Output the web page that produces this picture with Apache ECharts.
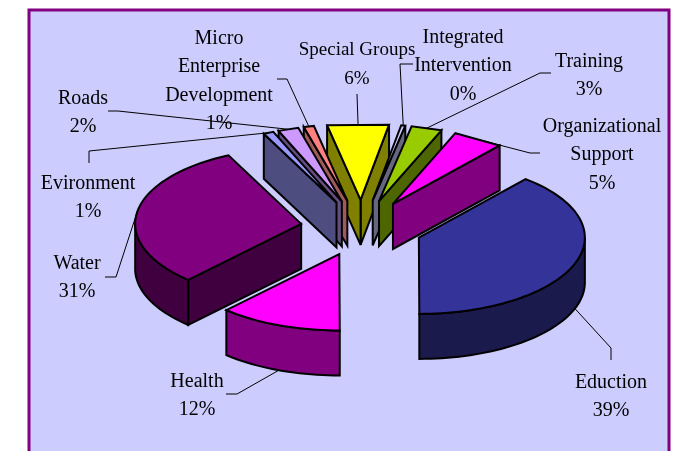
<!DOCTYPE html>
<html>
<head>
<meta charset="utf-8">
<style>
  html, body { margin: 0; padding: 0; background: #fff; overflow: hidden; }
  #chart { width: 677px; height: 451px; }
</style>
</head>
<body>
<div id="chart"></div>
<script src="https://cdn.jsdelivr.net/npm/echarts@6/dist/echarts.min.js"></script>
<script>
  // clockwise from the first slice
  const categories = ['Eduction', 'Health', 'Water', 'Evironment', 'Roads',
    'Micro Enterprise Development', 'Special Groups', 'Integrated Intervention', 'Training', 'Organizational Support']
  const values = [39, 12, 31, 1, 2, 1, 6, 0.4, 3, 5]

  const topColors = ['#333399', '#ff00ff', '#800080', '#9999ff', '#cc99ff', '#ff8080', '#ffff00', '#ccccff', '#99cc00', '#ff00ff']
  const sideColors = ['#1a1a4d', '#800080', '#400040', '#4d4d80', '#664d80', '#a05a5a', '#808000', '#666680', '#4d6600', '#800080']

  // how the category names wrap, and where the label sits
  const labelLines = [['Eduction'], ['Health'], ['Water'], ['Evironment'], ['Roads'],
    ['Micro', 'Enterprise', 'Development'], ['Special Groups'], ['Integrated', 'Intervention'], ['Training'], ['Organizational', 'Support']]
  const labelCenters = [[611, 379], [197, 378], [77, 260], [88, 180], [83, 95],
    [219, 35], [357, 47], [463, 34], [589, 58], [602, 123]]
  const labelSizes = [20, 20, 20, 20, 20, 20, 19, 20, 20, 20]
  // elbow of each leader line, the last end comes from the slice itself
  const leaderElbows = [[[611, 360], [611, 348]], [[226, 394], [237, 394]], [[105, 277], [116, 277]],
    [[89, 163], [89, 151]], [[108, 111], [118, 111]], [[277, 79], [287, 79]], [[357, 94]],
    [[413, 64], [400, 64]], [[551, 73], [540, 73]], [[540, 153], [530, 153]]]

  const cx = 361.5
  const cy = 228
  const radius = 166
  const tilt = 0.46
  const depth = 45
  const explode = 61
  const startAngle = 40

  const total = values.reduce((a, b) => a + b, 0)
  const toRad = deg => deg * Math.PI / 180
  const project = (x, y, r, deg) => [x + r * Math.sin(toRad(deg)), y - r * tilt * Math.cos(toRad(deg))]

  let running = startAngle
  const slices = values.map((v, i) => {
    const from = running
    running += v / total * 360
    return { index: i, from, to: running, mid: (from + running) / 2 }
  })
  // back slices first, the ones nearest the viewer on top
  const drawOrder = slices.slice().sort((a, b) => Math.cos(toRad(b.mid)) - Math.cos(toRad(a.mid)))

  const face = (points, fill) => ({
    type: 'polygon',
    shape: { points },
    style: { fill, stroke: '#000', lineWidth: 2, lineJoin: 'miter', miterLimit: 4 }
  })

  // narrow slices come out as a straight edge in the original
  const rimAngles = s => {
    if (s.to - s.from < 25) return [s.from, s.to]
    const list = []
    for (let a = s.from; a < s.to; a += 2) list.push(a)
    list.push(s.to)
    return list
  }

  const renderSlice = (params, api) => {
    const s = slices[api.value(0)]
    const apex = project(cx, cy, explode, s.mid)
    const children = []
    const down = p => [p[0], p[1] + depth]

    const angles = rimAngles(s)
    const arc = angles.map(a => project(apex[0], apex[1], radius, a))

    // side walls that face the viewer
    if (Math.cos(toRad(s.to + 90)) < -0.01) {
      children.push(face([apex, arc[arc.length - 1], down(arc[arc.length - 1]), down(apex)], sideColors[s.index]))
    }
    if (Math.cos(toRad(s.from - 90)) < -0.01) {
      children.push(face([apex, arc[0], down(arc[0]), down(apex)], sideColors[s.index]))
    }
    // outer wall, only the front part of the arc
    const front = arc.filter((p, k) => Math.cos(toRad(angles[k])) <= 0.02)
    if (front.length > 1) {
      children.push(face(front.concat(front.slice().reverse().map(down)), sideColors[s.index]))
    }
    children.push(face([apex].concat(arc), topColors[s.index]))
    return { type: 'group', children }
  }

  const renderLabel = (params, api) => {
    const s = slices[api.value(0)]
    const apex = project(cx, cy, explode, s.mid)
    let rim = project(apex[0], apex[1], radius, s.mid)
    if (s.to - s.from < 25) {
      const a = project(apex[0], apex[1], radius, s.from)
      const b = project(apex[0], apex[1], radius, s.to)
      rim = [(a[0] + b[0]) / 2, (a[1] + b[1]) / 2]
    }
    if (Math.cos(toRad(s.mid)) < 0) rim[1] += depth
    const text = labelLines[s.index].concat(Math.round(values[s.index] / total * 100) + '%').join('\n')
    const c = labelCenters[s.index]
    return {
      type: 'group',
      children: [
        {
          type: 'polyline',
          shape: { points: leaderElbows[s.index].concat([rim]) },
          style: { fill: null, stroke: '#000', lineWidth: 1 }
        },
        {
          type: 'text',
          style: {
            x: c[0],
            y: c[1] - 11,
            text,
            align: 'center',
            verticalAlign: 'top',
            font: labelSizes[s.index] + 'px "Liberation Serif"',
            lineHeight: 28.5,
            fill: '#000'
          }
        }
      ]
    }
  }

  const chart = echarts.init(document.getElementById('chart'), null, { renderer: 'canvas' })
  chart.setOption({
    animation: false,
    graphic: [{
      type: 'rect',
      z: -1,
      shape: { x: 29, y: 10, width: 640, height: 444 },
      style: { fill: '#ccccff', stroke: '#800080', lineWidth: 3 }
    }],
    series: [
      {
        type: 'custom',
        coordinateSystem: 'none',
        renderItem: renderSlice,
        data: drawOrder.map(s => [s.index, values[s.index], categories[s.index]]),
        z: 2
      },
      {
        type: 'custom',
        coordinateSystem: 'none',
        renderItem: renderLabel,
        data: slices.map(s => [s.index, values[s.index], categories[s.index]]),
        z: 3
      }
    ]
  })
</script>
</body>
</html>
